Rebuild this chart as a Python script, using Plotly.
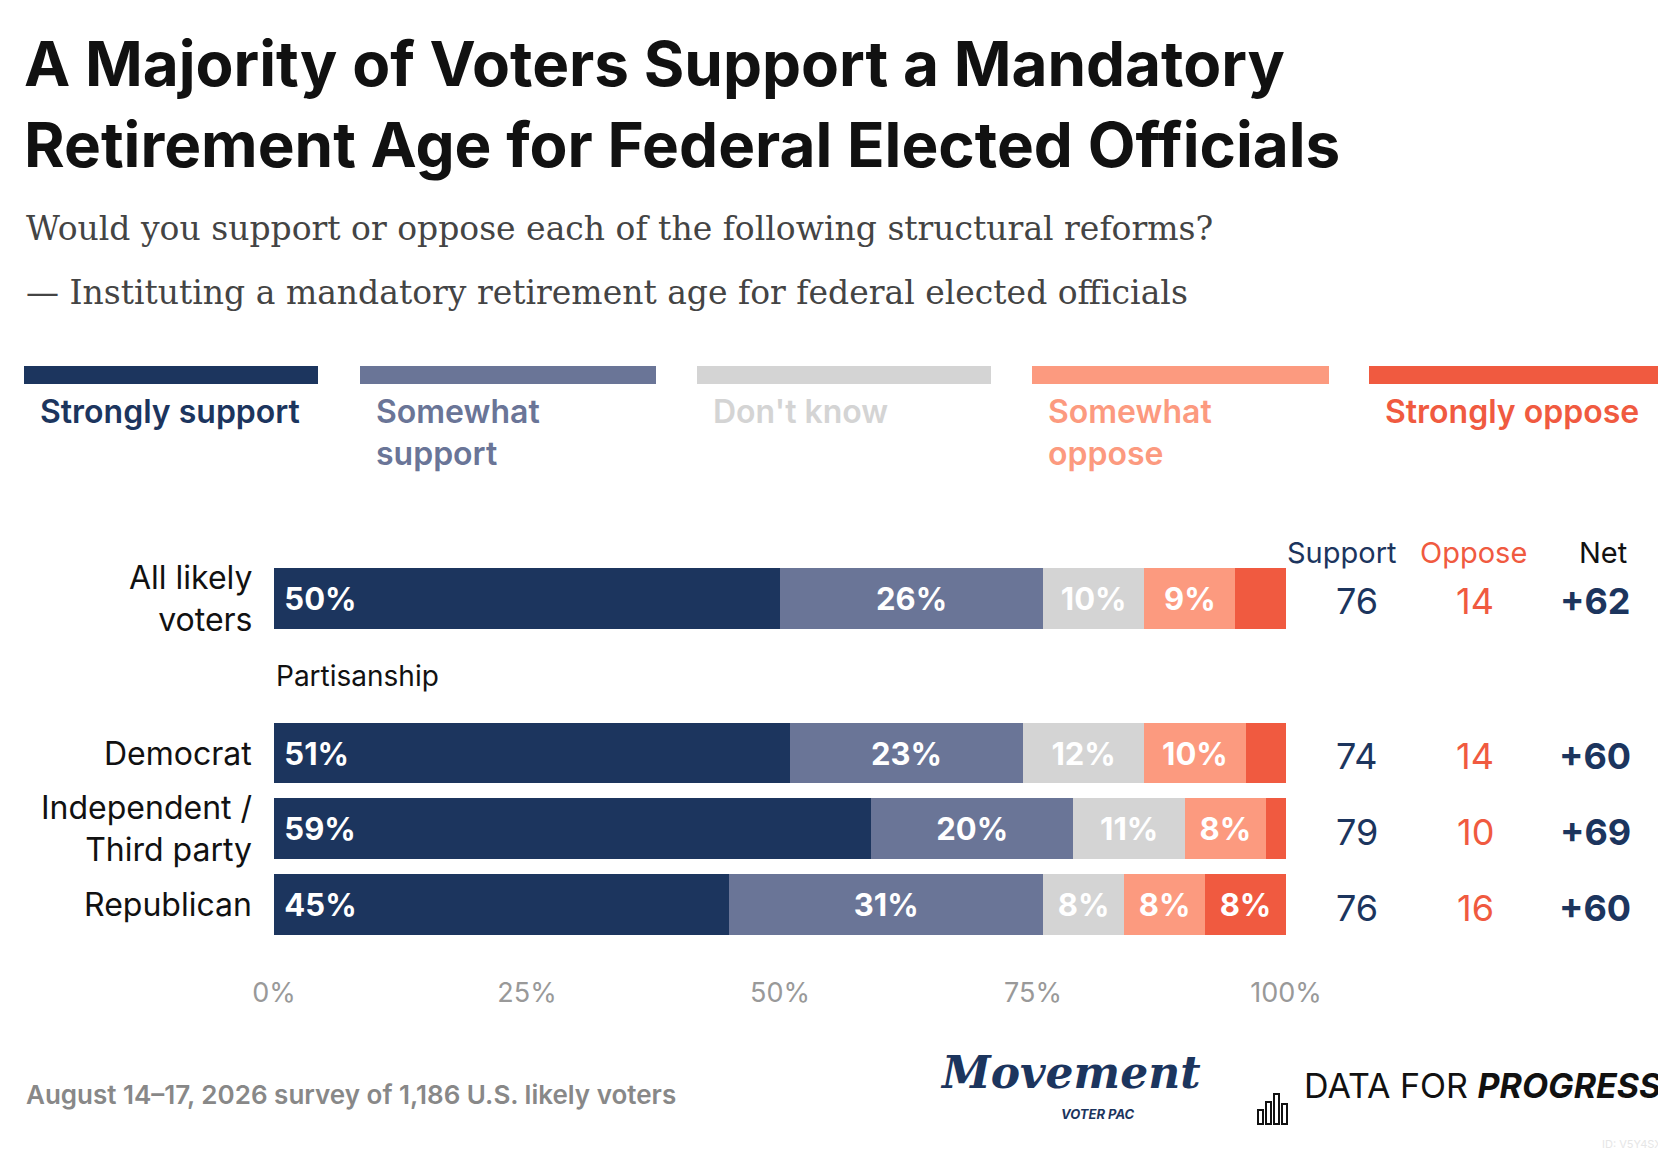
import plotly.graph_objects as go

groups = ["Republican", "Independent /<br>Third party", "Democrat", "All likely<br>voters"]
ypos = [0, 1, 2, 4.04]
categories = ["Strongly support", "Somewhat support", "Don't know", "Somewhat oppose", "Strongly oppose"]
legend_labels = ["Strongly support", "Somewhat<br>support", "Don't know", "Somewhat<br>oppose", "Strongly oppose"]
strongly_support = [45, 59, 51, 50]
somewhat_support = [31, 20, 23, 26]
dont_know = [8, 11, 12, 10]
somewhat_oppose = [8, 8, 10, 9]
strongly_oppose = [8, 2, 4, 5]
support = [76, 79, 74, 76]
oppose = [16, 10, 14, 14]
net = ["+60", "+69", "+60", "+62"]
colors = ["#1c355e", "#6a7597", "#d4d4d4", "#fc9a7f", "#f05a40"]

W, H = 1666, 1154
L, R, T, B = 266, 1278, 548, 942


def px(x):
    return (x - L) / (R - L)


def py(y):
    return (B - y) / (B - T)


fig = go.Figure()
series = [strongly_support, somewhat_support, dont_know, somewhat_oppose, strongly_oppose]
for i, (name, vals) in enumerate(zip(categories, series)):
    fig.add_trace(go.Bar(
        y=ypos, x=vals, name=name, orientation="h", width=0.8,
        marker=dict(color=colors[i], line=dict(width=0)),
        text=[(" " if i == 0 else "") + f"{v}%" if v >= 6 else "" for v in vals],
        textposition="inside",
        insidetextanchor="start" if i == 0 else "middle",
        textfont=dict(color="white", size=31, family="Inter", weight="bold"),
        hoverinfo="skip",
    ))

ann = []
ann.append(dict(x=px(14), y=py(96), xanchor="left", yanchor="middle", align="left",
                text="A Majority of Voters Support a Mandatory<br>Retirement Age for Federal Elected Officials",
                font=dict(size=62, family="Inter", color="#111", weight="bold")))
ann.append(dict(x=px(16), y=py(220), xanchor="left", yanchor="middle",
                text="Would you support or oppose each of the following structural reforms?",
                font=dict(size=33, family="DejaVu Serif", color="#444")))
ann.append(dict(x=px(16), y=py(284), xanchor="left", yanchor="middle",
                text="— Instituting a mandatory retirement age for federal elected officials",
                font=dict(size=33, family="DejaVu Serif", color="#444")))

leg_x = [(16, 310), (352, 648), (689, 983), (1024, 1321), (1361, 1656)]
shapes = []
for i, (x0, x1) in enumerate(leg_x):
    shapes.append(dict(type="rect", xref="paper", yref="paper", x0=px(x0), x1=px(x1),
                       y0=py(376), y1=py(358), fillcolor=colors[i], line=dict(width=0)))
    ann.append(dict(x=px(x0 + 14), y=py(382), xanchor="left", yanchor="top", align="left",
                    text=legend_labels[i],
                    font=dict(size=32, family="Inter", color=colors[i], weight=600)))

for yv, g in zip(ypos, groups):
    ann.append(dict(x=0, y=yv, xref="x", yref="y", xanchor="right", xshift=-20, align="right",
                    text=g, font=dict(size=32, family="Inter", color="#111")))
ann.append(dict(x=0, y=3.02, xref="x", yref="y", xanchor="left",
                text="Partisanship", font=dict(size=28, family="Inter", color="#111")))

cols = [(1334, "Support", "#1c355e"), (1465, "Oppose", "#f05a40"), (1595, "Net", "#111")]
for cx, t, c in cols:
    ann.append(dict(x=px(cx), y=py(525), xanchor="center", text=t,
                    font=dict(size=29, family="Inter", color=c)))
for yv, s, o, n in zip(ypos, support, oppose, net):
    ann.append(dict(x=px(1349), y=yv, yref="y", xanchor="center", yshift=-3, text=str(s),
                    font=dict(size=36, family="Inter", color="#1c355e")))
    ann.append(dict(x=px(1467), y=yv, yref="y", xanchor="center", yshift=-3, text=str(o),
                    font=dict(size=36, family="Inter", color="#f05a40")))
    ann.append(dict(x=px(1587), y=yv, yref="y", xanchor="center", yshift=-3, text=n,
                    font=dict(size=36, family="Inter", color="#1c355e", weight="bold")))

ann.append(dict(x=px(16), y=py(1104), xanchor="left", text="August 14–17, 2026 survey of 1,186 U.S. likely voters",
                font=dict(size=26, family="Inter", color="#888", weight=600)))
ann.append(dict(x=px(1062), y=py(1092), xanchor="center", text="<i>Movement</i>",
                font=dict(size=44, family="DejaVu Serif", color="#1c355e", weight="bold")))
ann.append(dict(x=px(1090), y=py(1116), xanchor="center", text="<i>VOTER PAC</i>",
                font=dict(size=13, family="Inter", color="#1c355e", weight="bold")))
ann.append(dict(x=px(1656), y=py(1100), xanchor="right",
                text="DATA FOR <b><i>PROGRESS</i></b>",
                font=dict(size=34, family="Inter", color="#111")))
ann.append(dict(x=px(1656), y=py(1145), xanchor="right", text="ID: V5Y4SX",
                font=dict(size=11, family="Inter", color="#e6e6e6")))
for a, h in [(0, 14), (8, 22), (16, 30), (24, 20)]:
    shapes.append(dict(type="rect", xref="paper", yref="paper", x0=px(1250 + a), x1=px(1255 + a),
                       y0=py(1116), y1=py(1116 - h), fillcolor="white", line=dict(color="#111", width=2)))

fig.update_layout(
    width=W, height=H, barmode="stack", showlegend=False,
    plot_bgcolor="white", paper_bgcolor="white",
    margin=dict(l=L, r=W - R, t=T, b=H - B, autoexpand=False),
    xaxis=dict(range=[0, 100], tickvals=[0, 25, 50, 75, 100],
               ticktext=["0%", "25%", "50%", "75%", "100%"], showgrid=False, zeroline=False,
               tickfont=dict(size=27, family="Inter", color="#999"), ticklabelstandoff=24),
    yaxis=dict(range=[-0.6, 4.6], visible=False),
    annotations=[dict(a, showarrow=False, **({} if "xref" in a else {"xref": "paper"}),
                      **({} if "yref" in a else {"yref": "paper"})) for a in ann],
    shapes=shapes,
)
fig.write_html("out.html")
